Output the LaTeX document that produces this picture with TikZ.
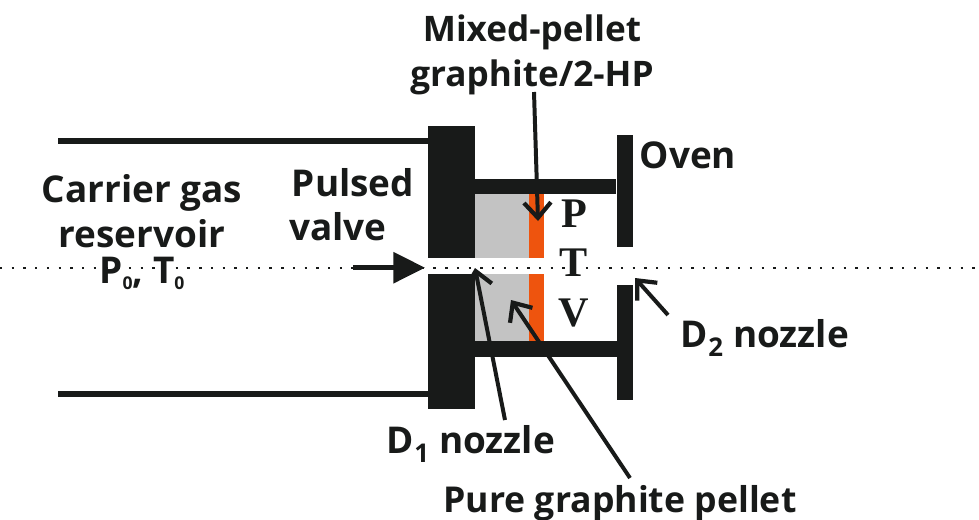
\documentclass[tikz,border=0pt]{standalone}
\usepackage{fontspec}
\setmainfont{Open Sans}
\newfontfamily\valuefont{Liberation Serif}
\usetikzlibrary{arrows.meta}
\definecolor{darkpart}{RGB}{24,26,25}
\definecolor{pelletgray}{RGB}{195,195,195}
\definecolor{pelletorange}{RGB}{238,84,14}
\newcommand{\lowzero}{\raisebox{-5pt}{\fontsize{15}{15}\selectfont 0}}
\tikzset{
  label/.style={font=\fontsize{31.5}{38}\selectfont\bfseries,text=darkpart,align=center,inner sep=0pt},
  pvt/.style={font=\fontsize{36}{38}\selectfont\bfseries\valuefont,text=darkpart,inner sep=0pt},
  part/.style={fill=darkpart,draw=none},
  pointer/.style={-{Straight Barb[length=13pt,width=23pt,line width=3.6pt]},line width=3.4pt,darkpart},
}
\begin{document}
\begin{tikzpicture}[x=0.03cm,y=-0.03cm]
\useasboundingbox (0,0) rectangle (979,519);
% pellets
\fill[pelletgray] (475,194) rectangle (529,258);
\fill[pelletgray] (475,274) rectangle (529,341);
\fill[pelletorange] (529,194) rectangle (544,258);
\fill[pelletorange] (529,274) rectangle (544,341);
% valve body and oven
\fill[part] (427.5,126) rectangle (475,258);
\fill[part] (427.5,274) rectangle (475,409);
\fill[part] (475,179) rectangle (616,194);
\fill[part] (475,341) rectangle (617,357);
\fill[part] (617,135) rectangle (633,247);
\fill[part] (617,285) rectangle (633,400);
% reservoir walls
\coordinate (wallA) at (58,141);
\coordinate (wallB) at (427.5,141);
\coordinate (wallC) at (58,394);
\coordinate (wallD) at (427.5,394);
\draw[line width=4.5pt,darkpart] (wallA) -- (wallB);
\draw[line width=4.5pt,darkpart] (wallC) -- (wallD);
% axis
\coordinate (axisL) at (0,267.7);
\coordinate (axisR) at (979,267.7);
\draw[line width=2pt,dash pattern=on 2pt off 8pt,darkpart] (axisL) -- (axisR);
% labels
\node[label,font=\fontsize{30}{38}\selectfont\bfseries] (mixed) at (532,55) {Mixed-pellet\\graphite/2-HP};
\node[label] (oven) at (688,155) {Oven};
\node[label] (carrier) at (142,211) {Carrier gas\\reservoir};
\node[label] (reservoirPT) at (142,273) {P\lowzero, T\lowzero};
\node[label] (pulsed) at (353,183) {Pulsed};
\node[label] (valve) at (338,227) {valve};
\node[pvt] (pP) at (574,214) {P};
\node[pvt] (pT) at (574,263) {T};
\node[pvt] (pV) at (574,313) {V};
\node[label] (dtwo) at (765,338) {D$_{\mathbf{2}}$ nozzle};
\node[label] (done) at (471,444) {D$_{\mathbf{1}}$ nozzle};
\node[label,font=\fontsize{30.4}{38}\selectfont\bfseries] (pure) at (620,503) {Pure graphite pellet};
% arrows
\coordinate (valveA) at (353,267.7);
\coordinate (valveB) at (425,267.7);
\draw[-{Triangle[length=27pt,width=26pt]},line width=4pt,darkpart] (valveA) -- (valveB);
\coordinate (mixedA) at (534,92);
\coordinate (mixedB) at (538,221);
\draw[pointer] (mixedA) -- (mixedB);
\coordinate (doneA) at (505,420);
\coordinate (doneB) at (475,268);
\draw[pointer] (doneA) -- (doneB);
\coordinate (pureA) at (630,478);
\coordinate (pureB) at (511,300);
\draw[pointer] (pureA) -- (pureB);
\coordinate (dtwoA) at (668,315);
\coordinate (dtwoB) at (635,278);
\draw[pointer] (dtwoA) -- (dtwoB);
\end{tikzpicture}
\end{document}
